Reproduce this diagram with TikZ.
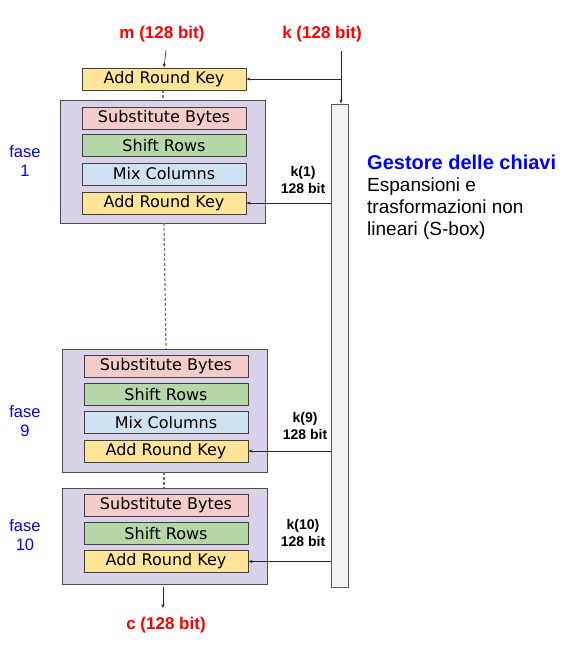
\documentclass[tikz,border=0pt]{standalone}
\usepackage{fontspec}
\setmainfont{Liberation Sans}
\newfontfamily\boxfont{DejaVu Sans}
\usetikzlibrary{arrows.meta}
\definecolor{cyel}{HTML}{FFE599}
\definecolor{cpink}{HTML}{F4CCCC}
\definecolor{cgreen}{HTML}{B6D7A8}
\definecolor{cblue}{HTML}{CFE2F3}
\definecolor{clav}{HTML}{D9D2E9}
\definecolor{cgray}{HTML}{F3F3F3}
\definecolor{cred}{HTML}{FF0000}
\definecolor{cbl}{HTML}{0000FF}
\tikzset{
  opbox/.style={draw=black!75, line width=0.9pt, minimum width=164pt, minimum height=22pt, inner sep=0pt, font=\boxfont\fontsize{16}{18}\selectfont},
  phasebox/.style={draw=black!70, line width=1pt, fill=clav},
  redlbl/.style={text=cred, font=\bfseries\fontsize{17}{19}\selectfont},
  faselbl/.style={text=cbl, font=\fontsize{16.5}{19}\selectfont, align=center},
  klbl/.style={font=\bfseries\fontsize{14}{16.5}\selectfont, align=center},
  arr/.style={-{Stealth[length=4pt,width=3pt]}, line width=0.6pt, black!85},
  dashline/.style={line width=1.2pt, black!55, dash pattern=on 3pt off 2pt}
}
\begin{document}
\begin{tikzpicture}[x=1pt,y=-1pt]
\useasboundingbox (0,0) rectangle (588,663);
% top labels
\node[redlbl] (m) at (162,34) {m (128 bit)};
\node[redlbl] (k) at (322,34) {k (128 bit)};
% initial ARK
\node[opbox, fill=cyel] (ark0) at (164,79) {Add Round Key};
% key schedule box
\node[draw=black!65, line width=0.9pt, fill=cgray, minimum width=17pt, minimum height=483pt, inner sep=0pt] (ks) at (339.5,345.5) {};
\coordinate (ktop) at (341,51);
\coordinate (kmid) at (341,79);
% phase 1
\draw[phasebox] (60,101) rectangle (265,223);
\node[opbox, fill=cpink] (sb1) at (164,118) {Substitute Bytes};
\node[opbox, fill=cgreen] (sr1) at (164,145.5) {Shift Rows};
\node[opbox, fill=cblue] (mc1) at (164,174) {Mix Columns};
\node[opbox, fill=cyel] (ark1) at (164,203) {Add Round Key};
% phase 9
\draw[phasebox] (62,349) rectangle (267,472);
\node[opbox, fill=cpink] (sb9) at (166,366) {Substitute Bytes};
\node[opbox, fill=cgreen] (sr9) at (166,394.5) {Shift Rows};
\node[opbox, fill=cblue] (mc9) at (166,422.5) {Mix Columns};
\node[opbox, fill=cyel] (ark9) at (166,451) {Add Round Key};
% phase 10
\draw[phasebox] (62,488) rectangle (267,584);
\node[opbox, fill=cpink] (sb10) at (166,505.5) {Substitute Bytes};
\node[opbox, fill=cgreen] (sr10) at (166,533.5) {Shift Rows};
\node[opbox, fill=cyel] (ark10) at (166,561.5) {Add Round Key};
% vertical flow
\coordinate (m1) at (166,50);
\draw[arr] (m1) -- (ark0.north);
\coordinate (d0a) at (163,90); \coordinate (d0b) at (163,101);
\draw[dashline] (d0a) -- (d0b);
\coordinate (d1a) at (164,223); \coordinate (d1b) at (166,349);
\draw[dashline] (d1a) -- (d1b);
\coordinate (d2a) at (164,472); \coordinate (d2b) at (164,488);
\draw[dashline] (d2a) -- (d2b);
\coordinate (o1) at (163,587); \coordinate (o2) at (163,608);
\draw[arr] (o1) -- (o2);
\node[redlbl] (c) at (166,625) {c (128 bit)};
% key arrows
\draw[line width=0.6pt, black!85] (ktop) -- (kmid);
\draw[arr] (kmid) -- (ks.north -| kmid);
\draw[arr] (kmid) -- (ark0.east);
\draw[arr] (ks.west |- ark1.east) -- (ark1.east);
\draw[arr] (ks.west |- ark9.east) -- (ark9.east);
\draw[arr] (ks.west |- ark10.east) -- (ark10.east);
\node[klbl] (k1) at (303,180) {k(1)\\128 bit};
\node[klbl] (k9) at (305,426) {k(9)\\128 bit};
\node[klbl] (k10) at (303,533) {k(10)\\128 bit};
% fase labels
\node[faselbl] (f1) at (25,161) {fase\\1};
\node[faselbl] (f9) at (25,421) {fase\\9};
\node[faselbl] (f10) at (25,535) {fase\\10};
% description
\node[anchor=north west, inner sep=0pt, align=left, font=\fontsize{19}{22}\selectfont] (desc) at (367,155)
 {\textcolor{cbl}{\bfseries\fontsize{20}{22}\selectfont Gestore delle chiavi}\\Espansioni e\\trasformazioni non\\lineari (S-box)};
\end{tikzpicture}
\end{document}
